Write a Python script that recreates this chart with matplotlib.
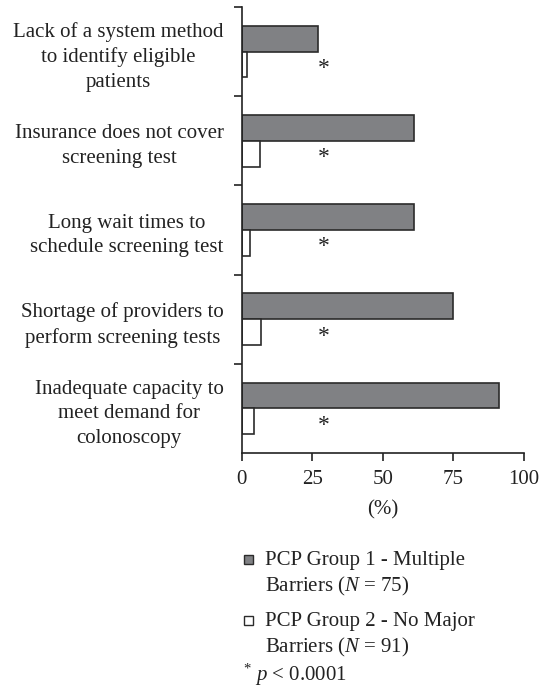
import matplotlib
matplotlib.use("Agg")
import matplotlib.pyplot as plt
from matplotlib.patches import Rectangle
import numpy as np

categories = [
    "Lack of a system method\nto identify eligible\npatients",
    "Insurance does not cover\nscreening test",
    "Long wait times to\nschedule screening test",
    "Shortage of providers to\nperform screening tests",
    "Inadequate capacity to\nmeet demand for\ncolonoscopy",
]
group1 = [27, 61, 61, 75, 91]
group2 = [2, 6.5, 3, 7, 4.5]
xticks = [0, 25, 50, 75, 100]
legend_labels = ["PCP Group 1 - Multiple\nBarriers ($\\mathit{N}$ = 75)",
                 "PCP Group 2 - No Major\nBarriers ($\\mathit{N}$ = 91)"]

plt.rcParams['font.family'] = ['Liberation Serif', 'DejaVu Serif']
plt.rcParams['mathtext.fontset'] = 'custom'
plt.rcParams['mathtext.rm'] = 'Liberation Serif'
plt.rcParams['mathtext.it'] = 'Liberation Serif:italic'

fs = 15
tc = '#222222'
fig = plt.figure(figsize=(5.39, 6.96), dpi=100)
ax = fig.add_axes([0.4483, 0.3491, 0.9722 - 0.4483, 0.98994 - 0.3491])

y = np.arange(len(categories))
h = 0.29
gray = '#808184'
edge = '#2b2b2b'
ax.barh(y - h / 2, group1, height=h, color=gray, edgecolor=edge, linewidth=1.2)
ax.barh(y + h / 2, group2, height=h, color='white', edgecolor=edge, linewidth=1.2)

for i in y:
    ax.text(29, i + 0.19, "*", ha='center', va='center', fontsize=17, color=tc)

ax.set_ylim(len(categories) - 0.5, -0.5)
ax.set_xlim(0, 100)
ax.set_yticks(y)
ax.set_yticklabels(categories, fontsize=fs, multialignment='center', color=tc,
                   linespacing=1.4)
ax.tick_params(axis='y', length=0, pad=13)
ax.set_yticks(np.arange(-0.5, len(categories) - 0.5, 1), minor=True)
ax.tick_params(axis='y', which='minor', length=6, width=1.2, direction='out', color=tc)
ax.set_xticks(xticks)
ax.set_xticklabels([str(t) for t in xticks], fontsize=fs, color=tc)
ax.tick_params(axis='x', length=6, width=1.2, direction='out', color=tc, pad=6)
ax.set_xlabel("(%)", fontsize=fs, labelpad=8, color=tc)

for s in ['top', 'right']:
    ax.spines[s].set_visible(False)
for s in ['left', 'bottom']:
    ax.spines[s].set_linewidth(1.2)
    ax.spines[s].set_color(tc)

# legend
W, H = 539, 696
def fx(px):
    return px / W
def fy(py):
    return 1 - py / H

sq = 9
for (cy, fc), lab in zip([(559, gray), (620, 'white')], legend_labels):
    fig.add_artist(Rectangle((fx(248 - sq / 2), fy(cy + sq / 2)), sq / W, sq / H,
                             transform=fig.transFigure, facecolor=fc, edgecolor=edge, linewidth=1.0))
    fig.text(fx(265), fy(cy - 8), lab, fontsize=fs, va='top', ha='left',
             linespacing=1.3, color=tc)

fig.text(fx(243), fy(675), "$^{*}$ $\\mathit{p}$ < 0.0001", fontsize=fs, va='center', ha='left', color=tc)

fig.savefig("out.png", dpi=100)
